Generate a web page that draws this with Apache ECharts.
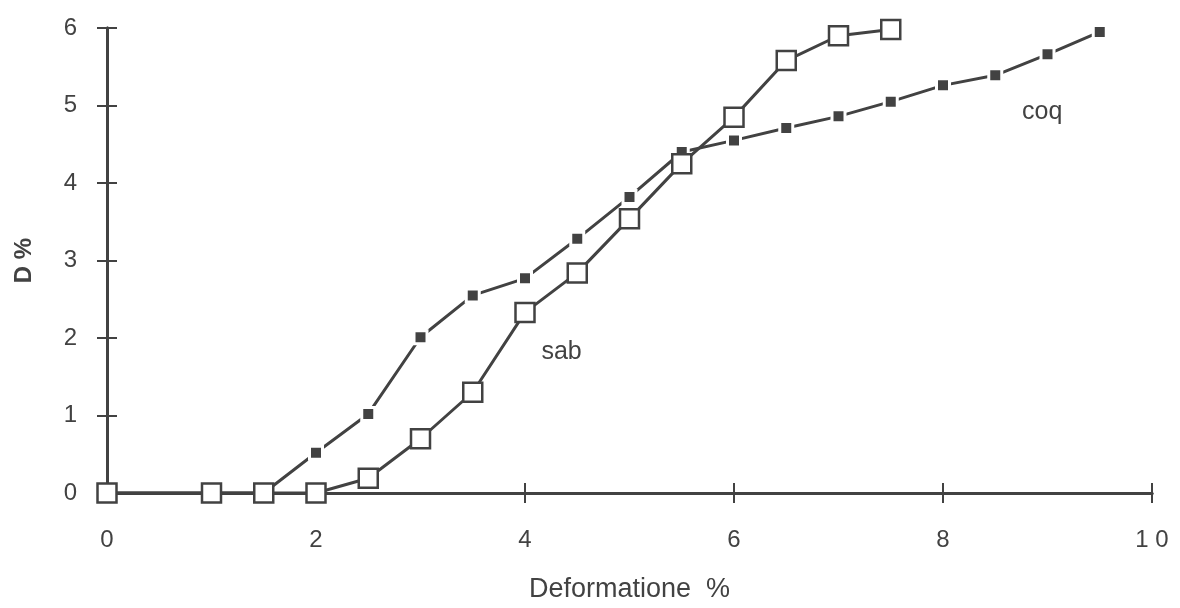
<!DOCTYPE html>
<html>
<head>
<meta charset="UTF-8">
<title>D % vs Deformatione %</title>
<script src="https://cdn.jsdelivr.net/npm/echarts@6/dist/echarts.min.js"></script>
<style>
  html, body { margin: 0; padding: 0; background: #fff; }
  #main { width: 1180px; height: 608px; }
</style>
</head>
<body>
<div id="main"></div>
<script>
// data
var sabX = [0, 1, 1.5, 2, 2.5, 3, 3.5, 4, 4.5, 5, 5.5, 6, 6.5, 7, 7.5];
var sabY = [0, 0, 0, 0, 0.19, 0.70, 1.30, 2.33, 2.84, 3.54, 4.25, 4.85, 5.58, 5.90, 5.98];
var coqX = [0, 1, 1.5, 2, 2.5, 3, 3.5, 4, 4.5, 5, 5.5, 6, 6.5, 7, 7.5, 8, 8.5, 9, 9.5];
var coqY = [0, 0, 0, 0.52, 1.02, 2.01, 2.55, 2.77, 3.28, 3.82, 4.40, 4.55, 4.71, 4.86, 5.05, 5.26, 5.39, 5.66, 5.95];
var xTicks = [0, 2, 4, 6, 8, 10];
var yTicks = [0, 1, 2, 3, 4, 5, 6];
var seriesNames = ['sab', 'coq'];
var labelPos = { sab: [4.35, 1.82], coq: [8.95, 4.92] };

function pairs(xs, ys) {
  return xs.map(function (x, i) { return [x, ys[i]]; });
}

var ink = '#424242';
var font = 'Liberation Sans, Arial, Helvetica, sans-serif';

var chart = echarts.init(document.getElementById('main'));

var baseX = {
  type: 'value', min: 0, max: 10, interval: 2, position: 'bottom',
  splitLine: { show: false }
};
var baseY = {
  type: 'value', min: 0, max: 6, interval: 1, position: 'left',
  splitLine: { show: false }
};

function seriesLabel(name, pos) {
  return {
    symbol: 'circle',
    symbolSize: 1,
    itemStyle: { color: 'rgba(0,0,0,0)' },
    label: {
      show: true, position: 'inside', color: ink, fontSize: 25,
      fontFamily: font, formatter: name
    },
    data: [{ coord: pos }]
  };
}

var option = {
  backgroundColor: '#ffffff',
  animation: false,
  grid: { left: 107, right: 28, top: 28, bottom: 115 },
  xAxis: [
    Object.assign({}, baseX, {
      name: 'Deformatione  %',
      nameLocation: 'middle',
      nameGap: 83,
      nameTextStyle: { color: ink, fontSize: 27, fontFamily: font },
      axisLine: { lineStyle: { color: ink, width: 3 } },
      axisTick: { show: true, length: 10, lineStyle: { color: ink, width: 2 } },
      axisLabel: {
        color: ink, fontSize: 24, fontFamily: font, margin: 35,
        formatter: function (v) { return xTicks.indexOf(v) >= 0 ? (v === 10 ? '1 0' : String(v)) : ''; }
      }
    }),
    Object.assign({}, baseX, {
      axisLine: { show: true, lineStyle: { color: ink, width: 3 } },
      axisTick: { show: true, inside: true, length: 10, lineStyle: { color: ink, width: 2 } },
      axisLabel: { show: false }
    })
  ],
  yAxis: [
    Object.assign({}, baseY, {
      name: 'D %',
      nameLocation: 'middle',
      nameGap: 71,
      nameRotate: 90,
      nameTextStyle: { color: ink, fontSize: 24, fontWeight: 'bold', fontFamily: font },
      axisLine: { lineStyle: { color: ink, width: 3 } },
      axisTick: { show: true, length: 10, lineStyle: { color: ink, width: 2 } },
      axisLabel: {
        color: ink, fontSize: 24, fontFamily: font, margin: 30,
        formatter: function (v) { return yTicks.indexOf(v) >= 0 ? String(v) : ''; }
      }
    }),
    Object.assign({}, baseY, {
      axisLine: { show: true, lineStyle: { color: ink, width: 3 } },
      axisTick: { show: true, inside: true, length: 10, lineStyle: { color: ink, width: 2 } },
      axisLabel: { show: false }
    })
  ],
  series: [
    {
      name: seriesNames[1],
      type: 'line',
      xAxisIndex: 0, yAxisIndex: 0,
      data: pairs(coqX, coqY),
      z: 3,
      symbol: 'rect',
      symbolSize: 13,
      showAllSymbol: true,
      lineStyle: { color: ink, width: 3 },
      itemStyle: { color: ink, borderColor: '#ffffff', borderWidth: 3 },
      markPoint: seriesLabel('coq', labelPos.coq)
    },
    {
      name: seriesNames[0],
      type: 'line',
      xAxisIndex: 0, yAxisIndex: 0,
      data: pairs(sabX, sabY),
      z: 4,
      symbol: 'rect',
      symbolSize: 19,
      showAllSymbol: true,
      lineStyle: { color: ink, width: 3 },
      itemStyle: { color: '#ffffff', borderColor: ink, borderWidth: 2.5 },
      markPoint: seriesLabel('sab', labelPos.sab)
    }
  ]
};

chart.setOption(option);
</script>
</body>
</html>
